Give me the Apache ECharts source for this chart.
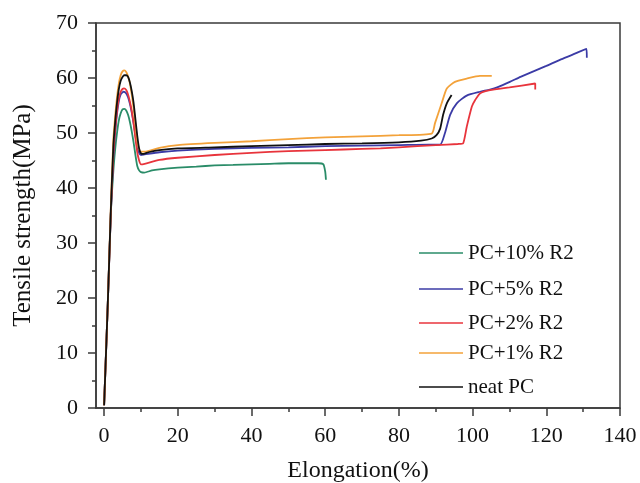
<!DOCTYPE html>
<html>
<head>
<meta charset="utf-8">
<script src="https://cdn.jsdelivr.net/npm/echarts@6/dist/echarts.min.js"></script>
<style>
  html, body { margin: 0; padding: 0; background: #fff; }
  #chart { width: 640px; height: 483px; }
</style>
</head>
<body>
<div id="chart"></div>
<script>
// Tensile stress-strain curves: [elongation %, stress MPa]
const seriesNames = ['PC+10% R2', 'PC+5% R2', 'PC+2% R2', 'PC+1% R2', 'neat PC'];
const seriesColors = ['#2a8c68', '#3b3ba6', '#e8343c', '#f3a23a', '#111111'];

const pc10 = [
  [0, 0.5], [1, 19], [1.8, 35], [2.5, 43], [3, 47], [3.5, 50], [4, 52.3], [4.5, 53.6],
  [5, 54.3], [5.5, 54.4], [6, 54.1], [6.5, 53.3], [7, 52], [7.5, 50.3], [8, 48.3],
  [8.5, 46], [9, 44], [9.5, 43.2], [10, 42.9], [10.9, 42.8], [13, 43.2], [15, 43.4],
  [20, 43.7], [25, 43.9], [30, 44.1], [35, 44.2], [40, 44.3], [45, 44.4], [50, 44.5],
  [55, 44.5], [58, 44.5], [59.5, 44.3], [60, 43], [60.2, 41.5]
];

const pc5 = [
  [0, 0.5], [1, 19], [1.8, 35], [2.5, 45.5], [3, 50], [3.5, 53.5], [4, 55.8], [4.5, 57],
  [5, 57.4], [5.3, 57.5], [6, 57.2], [6.5, 56.5], [7, 55.3], [7.5, 53.7], [8, 51.8],
  [8.5, 49.6], [9, 47.6], [9.5, 46.4], [10, 46], [11, 46.1], [15, 46.5], [20, 46.8],
  [30, 47.1], [40, 47.3], [50, 47.4], [60, 47.6], [70, 47.7], [80, 47.8], [88, 47.9],
  [91.2, 47.9], [92.5, 50], [93.9, 53.3], [95.7, 55.4], [98.4, 56.8], [102, 57.5],
  [104.7, 57.9], [107, 58.4], [110.1, 59.3], [113, 60.2], [116.5, 61.2], [120, 62.2],
  [123.7, 63.3], [127, 64.2], [130.9, 65.3], [131, 63.7]
];

const pc2 = [
  [0, 0.5], [1, 19], [1.8, 35], [2.5, 46], [3, 50.5], [3.5, 54], [4, 56.3], [4.5, 57.5],
  [5, 58], [5.4, 58.1], [6, 57.8], [6.5, 57], [7, 55.7], [7.5, 54], [8, 51.8],
  [8.5, 49], [9, 46.5], [9.5, 45], [10, 44.3], [11, 44.4], [15, 45.1], [20, 45.5],
  [30, 46], [40, 46.4], [50, 46.7], [60, 46.9], [70, 47.1], [75, 47.2], [80, 47.4],
  [90, 47.8], [96, 48], [97.4, 48.1], [98.4, 51.1], [99.8, 54.8], [100.7, 56],
  [102, 57.2], [104.7, 57.8], [110, 58.3], [117, 59], [117, 57.9]
];

const pc1 = [
  [0, 0.5], [1, 19], [1.8, 36], [2.5, 48.7], [3, 53], [3.5, 56.5], [4, 59], [4.5, 60.5],
  [5, 61.2], [5.5, 61.4], [6, 61.1], [6.5, 60.3], [7, 59], [7.5, 57], [8, 54.5],
  [8.5, 51.5], [9, 48.5], [9.5, 47], [10, 46.6], [11, 46.6], [15, 47.3], [20, 47.8],
  [30, 48.2], [40, 48.5], [50, 48.9], [60, 49.2], [70, 49.4], [80, 49.6], [88.9, 49.9],
  [89.8, 51.8], [91.6, 55.4], [93, 58.1], [95.2, 59.3], [98.4, 59.9], [102, 60.4],
  [105.2, 60.4]
];

const neatPC = [
  [0, 0.5], [1, 19], [1.8, 35.5], [2.5, 47.5], [3, 52], [3.5, 55.5], [4, 58], [4.5, 59.5],
  [5, 60.2], [5.5, 60.5], [6, 60.5], [6.5, 60.2], [7, 59.2], [7.5, 57.6], [8, 55.5],
  [8.5, 52.5], [9, 49.5], [9.5, 47.2], [10, 46.3], [10.7, 46.2], [12, 46.5], [15, 46.9],
  [20, 47.2], [30, 47.4], [40, 47.6], [50, 47.8], [60, 48], [70, 48.1], [80, 48.3],
  [86, 48.6], [88.9, 49], [90.2, 49.6], [91.2, 50.8], [92, 53.3], [93, 55.4], [94.3, 56.9]
];

const seriesData = [pc10, pc5, pc2, pc1, neatPC];

const xMajorTicks = [0, 20, 40, 60, 80, 100, 120, 140];
const xMinorTicks = [10, 30, 50, 70, 90, 110, 130];

const serif = 'Liberation Serif';
const axisColor = '#3a3a3a';

// one legend block per entry, stacked at the lower right of the plot
const legendRowsY = [253, 289, 323, 353, 387];

const chart = echarts.init(document.getElementById('chart'), null, { renderer: 'canvas' });

chart.setOption({
  animation: false,
  backgroundColor: '#ffffff',
  grid: {
    left: 96, right: 20, top: 23, bottom: 75,
    outerBoundsMode: 'none',
    containLabel: false,
    show: true, borderColor: axisColor, borderWidth: 1.5, backgroundColor: 'transparent'
  },
  legend: seriesNames.map((name, i) => ({
    data: [{ name: name, icon: 'rect' }],
    left: 419,
    top: legendRowsY[i] - 12,
    padding: 0,
    itemWidth: 44,
    itemHeight: 1.6,
    itemGap: 0,
    textStyle: { fontFamily: serif, fontSize: 21, color: '#111', lineHeight: 24 },
    selectedMode: false
  })),
  xAxis: [
    {
      type: 'value', min: -2.2, max: 140,
      name: 'Elongation(%)', nameLocation: 'middle', nameGap: 51,
      nameTextStyle: { fontFamily: serif, fontSize: 24, color: '#111' },
      axisLine: { show: true, onZero: false, lineStyle: { color: axisColor, width: 1.5 } },
      axisTick: { show: true, inside: false, length: 8, customValues: xMajorTicks, lineStyle: { color: axisColor, width: 1.5 } },
      axisLabel: { customValues: xMajorTicks, margin: 17, fontFamily: serif, fontSize: 22, color: '#111' },
      splitLine: { show: false }
    },
    {
      type: 'value', min: -2.2, max: 140, position: 'bottom',
      axisLine: { show: false },
      axisTick: { show: true, inside: false, length: 4, customValues: xMinorTicks, lineStyle: { color: axisColor, width: 1.5 } },
      axisLabel: { show: false },
      splitLine: { show: false }
    }
  ],
  yAxis: {
    type: 'value', min: 0, max: 70, interval: 10,
    name: 'Tensile strength(MPa)', nameLocation: 'middle', nameGap: 60, nameRotate: 90,
    nameTextStyle: { fontFamily: serif, fontSize: 25, color: '#111' },
    axisLine: { show: true, onZero: false, lineStyle: { color: axisColor, width: 1.5 } },
    axisTick: { show: true, inside: false, length: 8, lineStyle: { color: axisColor, width: 1.5 } },
    minorTick: { show: true, splitNumber: 2, length: 4, lineStyle: { color: axisColor, width: 1.5 } },
    axisLabel: { margin: 18, fontFamily: serif, fontSize: 22, color: '#111' },
    splitLine: { show: false }
  },
  series: seriesNames.map((name, i) => ({
    name: name,
    type: 'line',
    xAxisIndex: 0,
    data: seriesData[i],
    symbol: 'none',
    smooth: 0.2,
    color: seriesColors[i],
    lineStyle: { color: seriesColors[i], width: 1.8 }
  }))
});
</script>
</body>
</html>
